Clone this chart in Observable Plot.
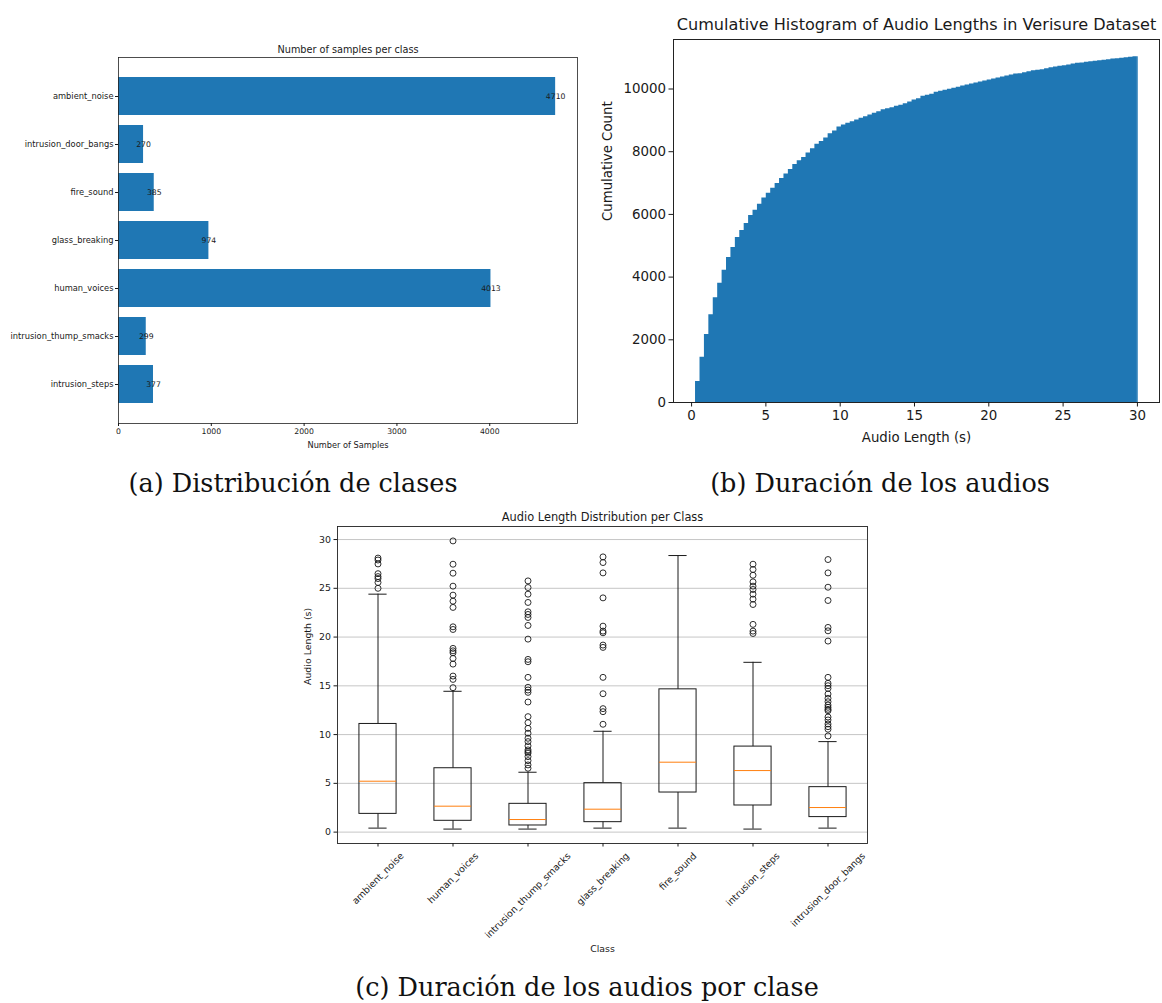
<!DOCTYPE html>
<html><head><meta charset="utf-8">
<script src="https://cdn.jsdelivr.net/npm/d3@7"></script>
<script src="https://cdn.jsdelivr.net/npm/@observablehq/plot@0.6"></script>
<style>
body{margin:0;background:#fff;}
#root{position:relative;width:1162px;height:1003px;overflow:hidden;font-family:"DejaVu Sans";}
.panel{position:absolute;}
.panel svg{overflow:visible;}
.cap{position:absolute;font-family:"DejaVu Serif";font-size:25.5px;line-height:1;color:#111;white-space:nowrap;transform:translate(-50%,-50%);}
</style></head><body><div id="root"></div>
<script>
// ---------- (a) samples per class ----------
const classCountNames = ["ambient_noise","intrusion_door_bangs","fire_sound","glass_breaking","human_voices","intrusion_thump_smacks","intrusion_steps"];
const classCounts = [4710, 270, 385, 974, 4013, 299, 377];
const countTicks = [0, 1000, 2000, 3000, 4000];

// ---------- (b) cumulative histogram (100 bins) ----------
const histMin = 0.27, histMax = 30.0;
const cumulativeCounts = [
  671, 1447, 2173, 2802, 3345, 3802, 4217, 4623, 4943, 5262,
  5486, 5709, 5965, 6134, 6326, 6527, 6678, 6837, 6987, 7147,
  7285, 7435, 7595, 7710, 7818, 7956, 8093, 8234, 8329, 8435,
  8572, 8658, 8786, 8850, 8904, 8956, 9010, 9064, 9115, 9170,
  9224, 9275, 9339, 9371, 9403, 9448, 9480, 9531, 9585, 9649,
  9690, 9767, 9799, 9831, 9895, 9927, 9959, 9991, 10023, 10055,
  10096, 10128, 10160, 10192, 10224, 10256, 10288, 10320, 10352, 10384,
  10416, 10448, 10480, 10489, 10521, 10553, 10585, 10598, 10617, 10649,
  10681, 10703, 10725, 10745, 10767, 10799, 10821, 10831, 10853, 10873,
  10885, 10905, 10917, 10936, 10959, 10968, 10985, 11000, 11015, 11028
];
const histXTicks = [0, 5, 10, 15, 20, 25, 30];
const histYTicks = [0, 2000, 4000, 6000, 8000, 10000];

// ---------- (c) box plot per class ----------
const boxClasses = ["ambient_noise","human_voices","intrusion_thump_smacks","glass_breaking","fire_sound","intrusion_steps","intrusion_door_bangs"];
const whiskerLow  = [0.41, 0.31, 0.31, 0.41, 0.41, 0.31, 0.41];
const quart1      = [1.87, 1.16, 0.68, 1.02, 4.06, 2.73, 1.54];
const medians     = [5.22, 2.66, 1.29, 2.35, 7.17, 6.31, 2.52];
const quart3      = [11.09, 6.55, 2.90, 5.02, 14.64, 8.77, 4.61];
const whiskerHigh = [24.40, 14.44, 6.14, 10.34, 28.36, 17.41, 9.28];
const outAmbient = [28.1, 27.9, 27.5, 26.5, 26.2, 26.0, 25.6, 25.0];
const outHuman = [29.86, 27.47, 26.55, 25.22, 24.30, 23.68, 23.04, 21.05, 20.78, 18.84, 18.59, 18.39, 17.81, 17.23, 16.0, 15.66, 14.81];
const outThump = [25.76, 25.08, 24.40, 23.55, 22.59, 22.32, 22.01, 21.19, 19.79, 17.71, 17.47, 15.87, 14.85, 14.57, 14.33, 13.34, 11.84, 11.22, 10.64, 10.14, 9.62, 9.28, 8.84, 8.43, 8.25, 8.09, 7.74, 7.33, 6.89, 6.55];
const outGlass = [28.22, 27.64, 26.58, 24.02, 21.12, 20.61, 20.44, 19.18, 18.94, 15.87, 14.19, 12.66, 12.35, 11.06];
const outFire = [];
const outSteps = [27.47, 26.93, 26.34, 25.66, 25.22, 24.88, 24.40, 23.89, 23.34, 21.30, 20.61, 20.37];
const outDoor = [27.95, 26.58, 25.11, 23.75, 20.99, 20.64, 19.59, 15.87, 15.26, 15.01, 14.74, 14.16, 13.72, 13.37, 13.03, 12.80, 12.59, 12.45, 11.80, 11.50, 11.09, 10.81, 10.55, 9.86];
const boxYTicks = [0, 5, 10, 15, 20, 25, 30];

const INK = "#1a1a1a";
const BLUE = "#1f77b4";
const root = document.getElementById("root");
function place(node, left, top) {
  const d = document.createElement("div");
  d.className = "panel"; d.style.left = left + "px"; d.style.top = top + "px";
  d.appendChild(node); root.appendChild(d);
}
function caption(text, cx, cy) {
  const d = document.createElement("div");
  d.className = "cap"; d.textContent = text;
  d.style.left = cx + "px"; d.style.top = cy + "px";
  root.appendChild(d);
}
const num = d => String(d);

// ----- panel (a)
const countData = classCountNames.map((c, i) => ({cls: c, n: classCounts[i]}));
const pa = Plot.plot({
  width: 590, height: 420,
  marginLeft: 118, marginRight: 13, marginTop: 17, marginBottom: 37,
  style: {fontFamily: "DejaVu Sans", color: INK, background: "transparent"},
  x: {domain: [0, d3.max(classCounts) * 1.05]},
  y: {domain: classCountNames, paddingInner: 0.2, paddingOuter: 0.34},
  marks: [
    Plot.barX(countData, {x: "n", y: "cls", fill: BLUE}),
    Plot.text(countData, {x: "n", y: "cls", text: d => String(d.n), fontSize: 7.7, fill: INK}),
    Plot.frame({stroke: "#222", strokeWidth: 0.8}),
    Plot.axisX({ticks: countTicks, tickFormat: num, tickSize: 3, tickPadding: 2, fontSize: 7.7, label: null}),
    Plot.axisY({tickSize: 3, tickPadding: 2, fontSize: 8.3, label: null}),
    Plot.text(["Number of samples per class"], {frameAnchor: "top", text: d => d, dy: -8, lineAnchor: "middle", fontSize: 9.7, fill: INK}),
    Plot.text(["Number of Samples"], {frameAnchor: "bottom", text: d => d, dy: 22, lineAnchor: "middle", fontSize: 8.2, fill: INK})
  ]
});
place(pa, 0, 40);

// ----- panel (b)
const binW = (histMax - histMin) / cumulativeCounts.length;
const histPts = cumulativeCounts.map((c, i) => ({x: histMin + i * binW, c}));
histPts.push({x: histMax, c: cumulativeCounts[cumulativeCounts.length - 1]});
const spanB = histMax - histMin;
const pb = Plot.plot({
  width: 572, height: 460,
  marginLeft: 83, marginRight: 3, marginTop: 39, marginBottom: 58,
  style: {fontFamily: "DejaVu Sans", color: INK, background: "transparent"},
  x: {domain: [histMin - 0.05 * spanB, histMax + 0.05 * spanB]},
  y: {domain: [0, d3.max(cumulativeCounts) * 1.05]},
  marks: [
    Plot.areaY(histPts, {x: "x", y: "c", fill: BLUE, curve: "step-after"}),
    Plot.ruleX([histMin, histMax], {y1: 0, y2: (d, i) => i === 0 ? cumulativeCounts[0] : cumulativeCounts[cumulativeCounts.length - 1], stroke: BLUE, strokeWidth: 0.8}),
    Plot.frame({stroke: "#222", strokeWidth: 1}),
    Plot.axisX({ticks: histXTicks, tickFormat: num, tickSize: 4.5, tickPadding: 3, fontSize: 13.4, label: null}),
    Plot.axisY({ticks: histYTicks, tickFormat: num, tickSize: 4.5, tickPadding: 3, fontSize: 13.4, label: null}),
    Plot.text(["Cumulative Histogram of Audio Lengths in Verisure Dataset"], {frameAnchor: "top", text: d => d, dy: -15, lineAnchor: "middle", fontSize: 16.1, fill: INK}),
    Plot.text(["Audio Length (s)"], {frameAnchor: "bottom", text: d => d, dy: 35, lineAnchor: "middle", fontSize: 13.3, fill: INK}),
    Plot.text(["Cumulative Count"], {frameAnchor: "left", text: d => d, dx: -66, rotate: -90, lineAnchor: "middle", fontSize: 13.3, fill: INK})
  ]
});
place(pb, 590, 0);

// ----- panel (c)
const boxData = boxClasses.map((c, i) => ({cls: c, lo: whiskerLow[i], q1: quart1[i], med: medians[i], q3: quart3[i], hi: whiskerHigh[i]}));
const outLists = [outAmbient, outHuman, outThump, outGlass, outFire, outSteps, outDoor];
const outData = outLists.flatMap((arr, i) => arr.map(v => ({cls: boxClasses[i], v})));
const allVals = whiskerLow.concat(whiskerHigh, outData.map(d => d.v));
const yLo = d3.min(allVals), yHi = d3.max(allVals), ySpan = yHi - yLo;
const W = 600, ML = 47, MR = 23;
const step = (W - ML - MR) / boxClasses.length;
const boxInset = step * 0.25, capInset = step * 0.375;
const LFS = 9.4;
const ctx = document.createElement("canvas").getContext("2d");
ctx.font = LFS + "px 'DejaVu Sans'";
const labelMarks = boxClasses.map(c => {
  const w = ctx.measureText(c).width;
  const off = 3.5 + 3.5 + (w + LFS * 1.15) * Math.SQRT1_2 / 2;
  return Plot.text([c], {x: d => d, text: d => d, frameAnchor: "bottom", dy: off, rotate: -45, textAnchor: "middle", lineAnchor: "middle", fontSize: LFS, fill: INK});
});
const pc = Plot.plot({
  width: W, height: 470,
  marginLeft: ML, marginRight: MR, marginTop: 26, marginBottom: 127,
  style: {fontFamily: "DejaVu Sans", color: INK, background: "transparent"},
  x: {domain: boxClasses, padding: 0},
  y: {domain: [yLo - 0.05 * ySpan, yHi + 0.05 * ySpan]},
  marks: [
    Plot.ruleY(boxYTicks, {stroke: "#b8b8b8", strokeWidth: 0.8}),
    Plot.ruleX(boxData, {x: "cls", y1: "q3", y2: "hi", stroke: INK, strokeWidth: 1}),
    Plot.ruleX(boxData, {x: "cls", y1: "lo", y2: "q1", stroke: INK, strokeWidth: 1}),
    Plot.tickY(boxData, {x: "cls", y: "hi", stroke: INK, strokeWidth: 1, insetLeft: capInset, insetRight: capInset}),
    Plot.tickY(boxData, {x: "cls", y: "lo", stroke: INK, strokeWidth: 1, insetLeft: capInset, insetRight: capInset}),
    Plot.barY(boxData, {x: "cls", y1: "q1", y2: "q3", fill: "none", stroke: INK, strokeWidth: 1, insetLeft: boxInset, insetRight: boxInset}),
    Plot.tickY(boxData, {x: "cls", y: "med", stroke: "#ff7f0e", strokeWidth: 1, insetLeft: boxInset, insetRight: boxInset}),
    Plot.dot(outData, {x: "cls", y: "v", r: 3, stroke: INK, fill: "none", strokeWidth: 0.9}),
    Plot.frame({stroke: "#222", strokeWidth: 0.9}),
    Plot.axisY({ticks: boxYTicks, tickFormat: num, tickSize: 3.5, tickPadding: 3, fontSize: 9.4, label: null}),
    Plot.axisX({tickSize: 3.5, tickFormat: () => "", label: null}),
    ...labelMarks,
    Plot.text(["Audio Length Distribution per Class"], {frameAnchor: "top", text: d => d, dy: -9, lineAnchor: "middle", fontSize: 11.4, fill: INK}),
    Plot.text(["Class"], {frameAnchor: "bottom", text: d => d, dy: 105, lineAnchor: "middle", fontSize: 9.4, fill: INK}),
    Plot.text(["Audio Length (s)"], {frameAnchor: "left", text: d => d, dx: -30, rotate: -90, lineAnchor: "middle", fontSize: 9.4, fill: INK})
  ]
});
place(pc, 290, 500);

caption("(a) Distribución de clases", 293, 484);
caption("(b) Duración de los audios", 880, 484);
caption("(c) Duración de los audios por clase", 587, 988);
</script></body></html>
